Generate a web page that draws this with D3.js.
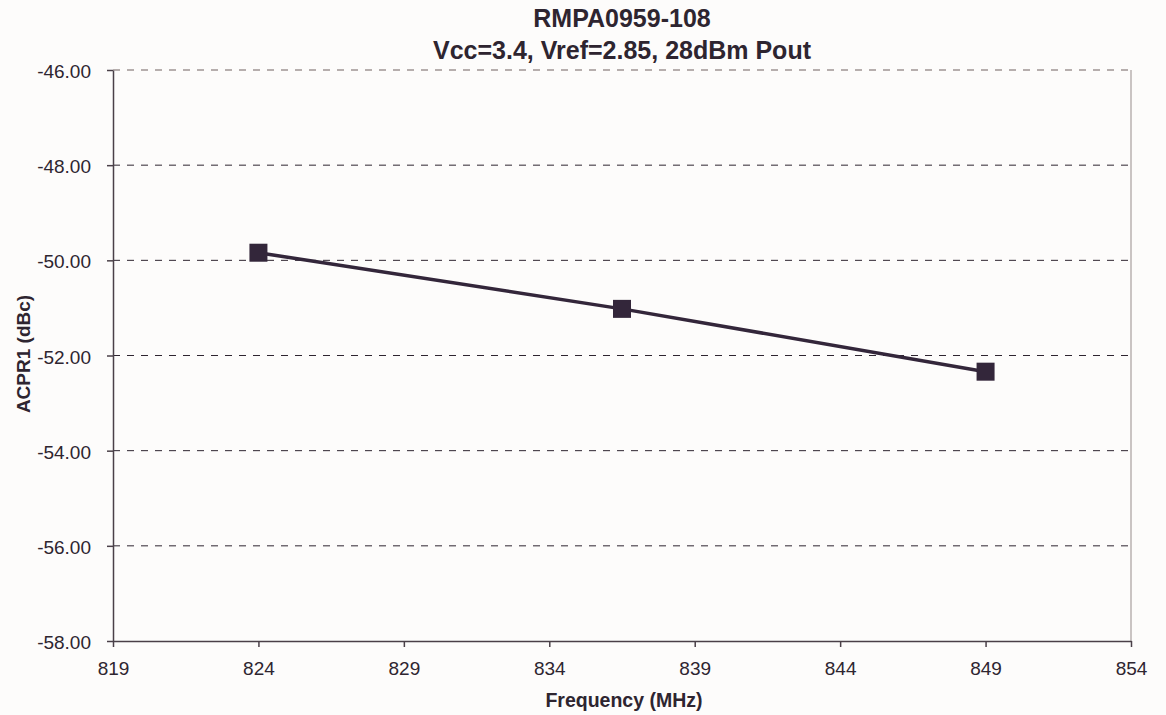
<!DOCTYPE html>
<html>
<head>
<meta charset="utf-8">
<script src="https://cdn.jsdelivr.net/npm/d3@7"></script>
<style>
  body { margin: 0; background: #fdfcfb; }
  text { font-family: "Liberation Sans", Arial, sans-serif; fill: #2e2530; }
</style>
</head>
<body>
<div id="chart"></div>
<script>
// data
const freqs = [824, 836.5, 849];
const acpr = [-49.84, -51.02, -52.34];
const xTicks = [819, 824, 829, 834, 839, 844, 849, 854];
const yTicks = [-46, -48, -50, -52, -54, -56, -58];
const titleLines = ["RMPA0959-108", "Vcc=3.4, Vref=2.85, 28dBm Pout"];

const W = 1166, H = 715;
const margin = { top: 70, right: 35, bottom: 74, left: 113 };
const width = W - margin.left - margin.right;
const height = H - margin.top - margin.bottom;

const svg = d3.select('#chart').append('svg')
    .attr('width', W).attr('height', H);

svg.append('rect').attr('width', W).attr('height', H).attr('fill', '#fdfcfb');

const g = svg.append('g').attr('transform', `translate(${margin.left},${margin.top})`);

const x = d3.scaleLinear().domain([819, 854]).range([0, width]);
const y = d3.scaleLinear().domain([-58, -46]).range([height, 0]);

// right border
g.append('line')
    .attr('x1', width).attr('x2', width).attr('y1', 0).attr('y2', height)
    .attr('stroke', '#b9b2b0').attr('stroke-width', 1.5);

// gridlines
g.selectAll('.grid').data(yTicks.filter(d => d !== -58)).enter().append('line')
    .attr('x1', 0).attr('x2', width)
    .attr('y1', d => y(d)).attr('y2', d => y(d))
    .attr('stroke', d => d === -46 ? '#9e9494' : '#2e2530')
    .attr('stroke-width', d => d === -46 ? 1.5 : 1)
    .attr('stroke-dasharray', '7,7');

// axes
const xAxis = d3.axisBottom(x).tickValues(xTicks).tickFormat(d3.format('d'))
    .tickSize(6).tickSizeOuter(0).tickPadding(14);
const gx = g.append('g').attr('transform', `translate(0,${height})`).call(xAxis);
gx.select('.domain').attr('stroke', '#4a4048').attr('stroke-width', 1.5);
gx.selectAll('.tick line').attr('stroke', '#4a4048').attr('stroke-width', 1.5);
gx.selectAll('.tick text').attr('font-size', 19).attr('fill', '#2e2530')
    .attr('dy', null).attr('y', 34);

const yAxis = d3.axisLeft(y).tickValues(yTicks).tickFormat(d3.format('.2f'))
    .tickSize(6).tickSizeOuter(0).tickPadding(16);
const gy = g.append('g').call(yAxis);
gy.select('.domain').attr('stroke', '#4a4048').attr('stroke-width', 1.5);
gy.selectAll('.tick line').attr('stroke', '#4a4048').attr('stroke-width', 1.5);
gy.selectAll('.tick text').attr('font-size', 19).attr('fill', '#2e2530')
    .attr('dy', null).attr('y', 7.5)
    .text(d => d3.format('.2f')(d).replace('−', '-'));

// series
const pts = freqs.map((f, i) => ({ f: f, v: acpr[i] }));
g.append('path').datum(pts)
    .attr('fill', 'none').attr('stroke', '#33263a').attr('stroke-width', 3.5)
    .attr('d', d3.line().x(d => x(d.f)).y(d => y(d.v)));

const ms = 18;
g.selectAll('.pt').data(pts).enter().append('rect')
    .attr('x', d => x(d.f) - ms / 2).attr('y', d => y(d.v) - ms / 2)
    .attr('width', ms).attr('height', ms)
    .attr('fill', '#33263a');

// titles
svg.selectAll('.title').data(titleLines).enter().append('text')
    .attr('x', 622).attr('y', (d, i) => 26.5 + i * 32.5)
    .attr('text-anchor', 'middle')
    .attr('font-size', 25).attr('font-weight', 'bold')
    .text(d => d);

svg.append('text')
    .attr('x', 624).attr('y', 706.5)
    .attr('text-anchor', 'middle')
    .attr('font-size', 19.5).attr('font-weight', 'bold')
    .text('Frequency (MHz)');

svg.append('text')
    .attr('transform', 'translate(30,354) rotate(-90)')
    .attr('text-anchor', 'middle')
    .attr('font-size', 19).attr('font-weight', 'bold')
    .text('ACPR1 (dBc)');
</script>
</body>
</html>
